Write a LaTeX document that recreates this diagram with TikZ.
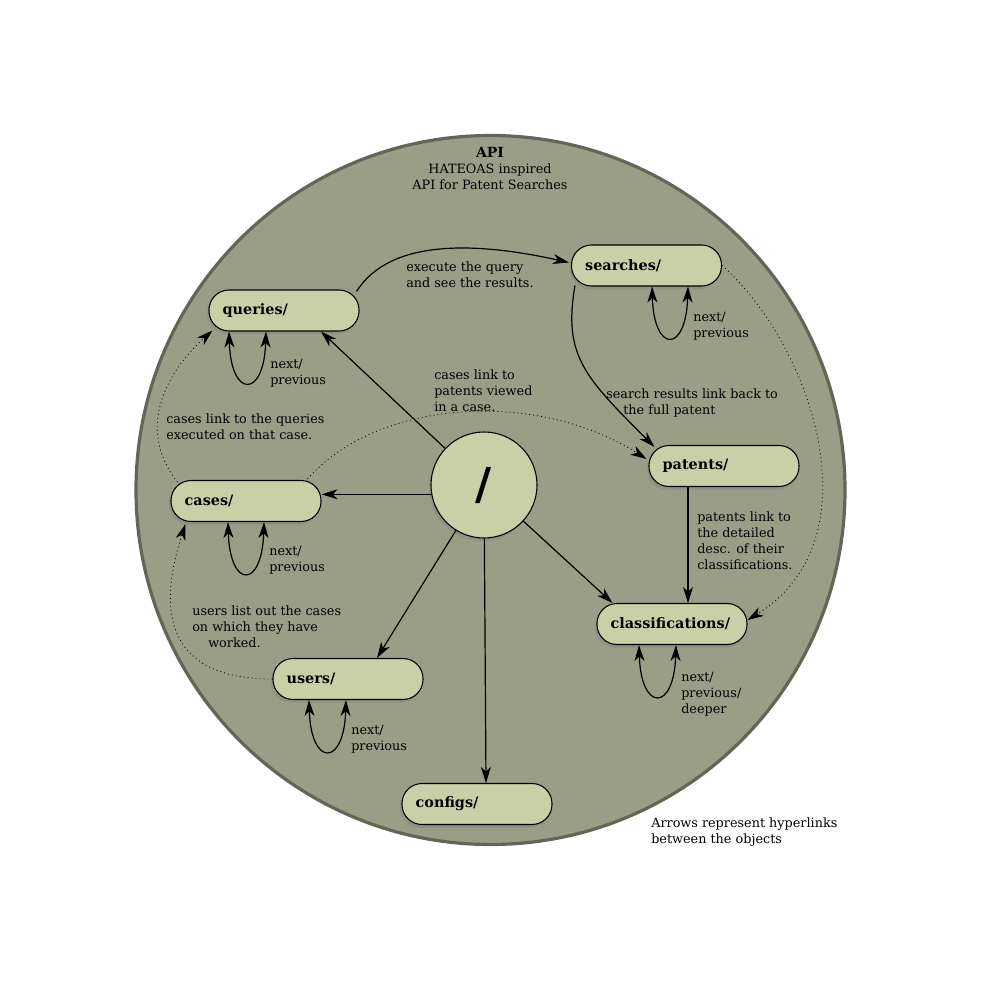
\documentclass[tikz,border=0pt]{standalone}
\usepackage{fontspec}
\setmainfont{DejaVu Serif}
\usetikzlibrary{positioning, calc, arrows.meta, shadows}

\definecolor{apifill}{RGB}{154,158,135}
\definecolor{apiedge}{RGB}{80,83,70}
\definecolor{resfill}{RGB}{201,207,167}

\begin{document}
\begin{tikzpicture}[
  x=0.75pt, y=-0.75pt,
  every node/.style={font=\fontsize{9.6}{12}\selectfont, inner sep=0pt},
  res/.style={draw, fill=resfill, rounded corners=15pt, line width=0.8pt,
              minimum width=112.5pt, minimum height=30.75pt,
              text width=92pt, inner xsep=10.25pt, align=left,
              font=\fontsize{10.8}{12}\selectfont\bfseries,
              drop shadow={shadow xshift=-1.5pt, shadow yshift=-2.5pt, opacity=0.35}},
  link/.style={-{Stealth[length=12pt, width=7.5pt, inset=3.5pt]}, line width=0.9pt},
  weak/.style={link, line width=0.6pt, dash pattern=on 0.7pt off 2.3pt},
  selfloop/.style={{Stealth[length=12pt, width=7.5pt, inset=3.5pt]}-{Stealth[length=12pt, width=7.5pt, inset=3.5pt]},
                   line width=0.9pt},
  note/.style={align=left, anchor=north west},
]
  \fill[white] (0,0) rectangle (981,981);
  \useasboundingbox (0,0) rectangle (981,981);

  % The API as one big disc
  \node[circle, fill=apifill, draw=apiedge!75!apifill, line width=2.4pt, minimum size=531.75pt]
    (api) at (490.5,490) {};
  \node[anchor=north, align=center] (title) at (490,147)
    {{\fontsize{10.5}{12}\selectfont\bfseries API}\\HATEOAS inspired\\API for Patent Searches};

  % Resources
  \node[circle, draw, fill=resfill, line width=0.8pt, minimum size=79.5pt,
        font=\fontsize{33}{34}\selectfont\bfseries,
        drop shadow={shadow xshift=-1.5pt, shadow yshift=-2.5pt, opacity=0.35}]
    (root) at (484,485) {/};
  \node[res] (queries) at (284,310.5) {queries/};
  \node[res] (searches) at (646.5,265.5) {searches/};
  \node[res] (patents) at (724,466) {patents/};
  \node[res] (cases) at (246,501) {cases/};
  \node[res] (classif) at (672,624) {\mbox{classifications/}};
  \node[res] (users) at (348,679) {users/};
  \node[res] (configs) at (477,804) {configs/};

  % Links out of the root
  \draw[link] (root) -- ($(queries.south)+(37,0)$);
  \draw[link] (root.190) -- (root.190 -| cases.east);
  \draw[link] (root) -- ($(users.north)+(29,0)$);
  \draw[link] (root) -- ($(configs.north)+(9,0)$);
  \draw[link] (root) -- ($(classif.north west)+(16,0)$);

  % Links between resources
  \draw[link] ($(queries.north east)+(-3,2)$) .. controls +(34,-54) and +(-90,-20) .. ($(searches.west)+(-2,-3)$);
  \draw[link] ($(searches.south west)+(4,-1)$) .. controls +(-12,70) and +(-70,-70) .. ($(patents.north west)+(6,2)$);
  \draw[link] ($(patents.south)+(-36,0)$) -- ($(classif.north)+(16,0)$);

  \draw[weak] ($(cases.north west)+(7,2)$) .. controls +(-40,-50) and +(-50,45) .. ($(queries.south west)+(4,-1)$);
  \draw[weak] (users.west) .. controls +(-110,0) and +(-27,83) .. ($(cases.south west)+(15,2)$);
  \draw[weak] ($(cases.north east)+(-14,-1)$) .. controls +(70,-80) and +(-110,-70) .. ($(patents.west)+(-2,-7)$);
  \draw[weak] (searches.east) .. controls +(90,80) and +(130,-80) .. ($(classif.east)+(0,-4)$);

  % Paging loops
  \draw[selfloop] ($(queries.south)+(-55,0)$) .. controls +(2,67) and +(-2,67) .. ($(queries.south)+(-18,0)$);
  \draw[selfloop] ($(searches.south)+(5.5,0)$) .. controls +(2,67) and +(-2,67) .. ($(searches.south)+(41.5,0)$);
  \draw[selfloop] ($(cases.south)+(-18,0)$) .. controls +(2,67) and +(-2,67) .. ($(cases.south)+(18,0)$);
  \draw[selfloop] ($(classif.south)+(-33,0)$) .. controls +(2,67) and +(-2,67) .. ($(classif.south)+(4,0)$);
  \draw[selfloop] ($(users.south)+(-39,0)$) .. controls +(2,67) and +(-2,67) .. ($(users.south)+(-2,0)$);

  % Notes
  \node[note] (execnote) at (406,262) {execute the query\\and see the results.};
  \node[note] (qloop) at (270,359) {next/\\previous};
  \node[note] (sloop) at (693,312) {next/\\previous};
  \node[note] (cloop) at (269,546) {next/\\previous};
  \node[note] (clloop) at (681,672) {next/\\previous/\\deeper};
  \node[note] (uloop) at (351,725) {next/\\previous};
  \node[note] (casepat) at (434,370) {cases link to\\patents viewed\\in a case.};
  \node[note] (srchnote) at (606,389) {search results link back to\\\hspace*{12.75pt}the full patent};
  \node[note] (casequ) at (166,414) {cases link to the queries\\executed on that case.};
  \node[note] (patnote) at (697,512) {patents link to\\the detailed\\desc. of their\\classifications.};
  \node[note] (usernote) at (192,606) {users list out the cases\\on which they have\\\hspace*{12pt}worked.};
  \node[note] (legend) at (651,817) {Arrows represent hyperlinks\\between the objects};
\end{tikzpicture}
\end{document}
